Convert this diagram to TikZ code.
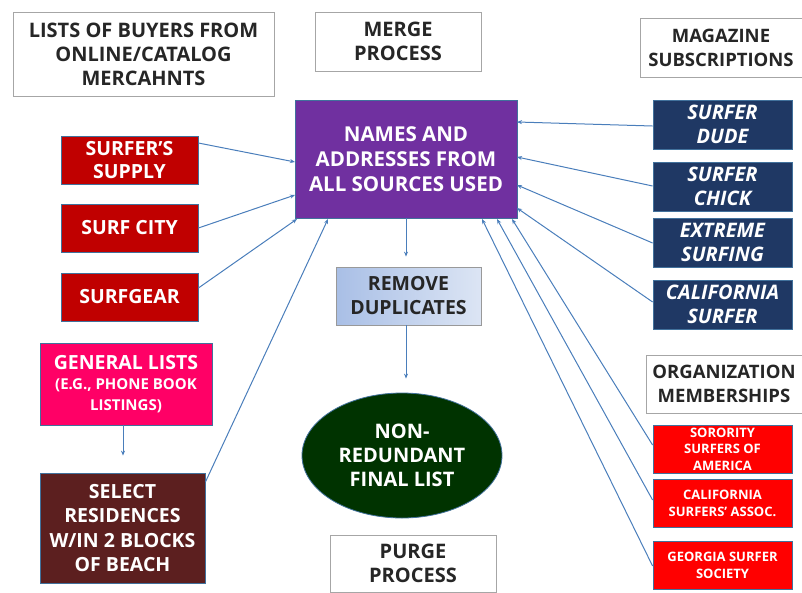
\documentclass[tikz,border=0pt]{standalone}
\usepackage{fontspec}
\setmainfont{Open Sans}
\usetikzlibrary{arrows.meta,shapes.geometric}
\definecolor{linec}{HTML}{4A7EBB}
\definecolor{purp}{HTML}{7030A0}
\definecolor{dred}{HTML}{C00000}
\definecolor{pinkc}{HTML}{FF0066}
\definecolor{brownc}{HTML}{5C1F1F}
\definecolor{navyc}{HTML}{1F3864}
\definecolor{redc}{HTML}{FF0000}
\definecolor{greenc}{HTML}{003300}
\definecolor{bordc}{HTML}{41719C}
\definecolor{remA}{HTML}{A9BFE6}
\definecolor{remB}{HTML}{DCE5F4}
\tikzset{
  x=1pt,y=-1pt,
  wbox/.style={draw=gray!70,line width=0.8pt,fill=white,align=center,font=\bfseries\fontsize{20}{24}\selectfont,text=black!85,inner sep=0pt},
  cbox/.style={draw=bordc,line width=0.8pt,align=center,text=white,inner sep=0pt,font=\bfseries\fontsize{19.5}{23.5}\selectfont},
  conn/.style={draw=linec,line width=1pt,-{Stealth[length=5pt,width=4pt]}}
}
\begin{document}
\begin{tikzpicture}
\useasboundingbox (0,0) rectangle (802,592);
% white label boxes
\node[wbox,minimum width=261,minimum height=84] (lists) at (143.5,54) {LISTS OF BUYERS FROM\\ONLINE/CATALOG\\MERCAHNTS};
\node[wbox,minimum width=166,minimum height=59] (merge) at (398,41.5) {MERGE\\PROCESS};
\node[wbox,minimum width=162,minimum height=59,font=\bfseries\fontsize{18.5}{24}\selectfont] (mag) at (721,47.5) {MAGAZINE\\SUBSCRIPTIONS};
\node[wbox,minimum width=156,minimum height=58,font=\bfseries\fontsize{18.5}{24}\selectfont] (org) at (724,384) {ORGANIZATION\\MEMBERSHIPS};
\node[wbox,minimum width=166,minimum height=57] (purge) at (413,563.5) {PURGE\\PROCESS};
% main
\node[cbox,fill=purp,minimum width=222,minimum height=118,font=\bfseries\fontsize{20.5}{25}\selectfont] (main) at (406,159) {NAMES AND\\ADDRESSES FROM\\ALL SOURCES USED};
% left red
\node[cbox,fill=dred,minimum width=137,minimum height=48] (supply) at (129.5,160) {SURFER'S\\SUPPLY};
\node[cbox,fill=dred,minimum width=137,minimum height=48] (city) at (129.5,228) {SURF CITY};
\node[cbox,fill=dred,minimum width=137,minimum height=48] (gear) at (129.5,297) {SURFGEAR};
\node[cbox,fill=pinkc,minimum width=172,minimum height=82] (gen) at (126,384) {GENERAL LISTS\\[-3pt]{\fontsize{15}{20}\selectfont (E.G., PHONE BOOK}\\[-3pt]{\fontsize{15}{20}\selectfont LISTINGS)}};
\node[cbox,fill=brownc,minimum width=165,minimum height=110,font=\bfseries\fontsize{19.5}{24.5}\selectfont] (sel) at (122.5,528) {SELECT\\RESIDENCES\\W/IN 2 BLOCKS\\OF BEACH};
% center
\node[draw=gray!80,line width=0.8pt,left color=remA,right color=remB,minimum width=145,minimum height=58,align=center,inner sep=0pt,text=black!85,font=\bfseries\fontsize{19.5}{24}\selectfont] (rem) at (408.5,296) {REMOVE\\DUPLICATES};
\node[ellipse,draw=bordc,line width=0.8pt,fill=greenc,minimum width=200,minimum height=125,inner sep=0pt,align=center,text=white,font=\bfseries\fontsize{20}{24}\selectfont] (fin) at (402,455.5) {NON-\\REDUNDANT\\FINAL LIST};
% right navy
\tikzset{nbox/.style={cbox,fill=navyc,minimum width=139,minimum height=49,font=\bfseries\itshape\fontsize{20}{24}\selectfont}}
\node[nbox] (dude) at (722.5,124.5) {SURFER\\DUDE};
\node[nbox] (chick) at (722.5,186.5) {SURFER\\CHICK};
\node[nbox] (ext) at (722.5,242.5) {EXTREME\\SURFING};
\node[nbox] (cal) at (722.5,304.5) {CALIFORNIA\\SURFER};
% right red
\tikzset{rbox/.style={cbox,fill=redc,minimum width=139,minimum height=48,font=\bfseries\fontsize{13}{16.5}\selectfont}}
\node[rbox] (sor) at (722.5,449) {SORORITY\\SURFERS OF\\AMERICA};
\node[rbox] (csa) at (722.5,503.5) {CALIFORNIA\\SURFERS' ASSOC.};
\node[rbox] (geo) at (722.5,565.5) {GEORGIA SURFER\\SOCIETY};
% connectors
\coordinate (m1) at (295,162);
\coordinate (m2) at (295,195);
\coordinate (m3) at (297,219);
\coordinate (m4) at (328,219);
\coordinate (r1) at (517,122);
\coordinate (r2) at (517,157);
\coordinate (r3) at (517,185);
\coordinate (r4) at (517,208);
\coordinate (b1) at (512,219);
\coordinate (b2) at (497,219);
\coordinate (b3) at (482,219);
\draw[conn] (supply.east|-0,143) -- (m1);
\draw[conn] (city.east) -- (m2);
\draw[conn] (gear.east|-0,288) -- (m3);
\draw[conn] (sel.north east|-0,482) -- (m4);
\draw[conn,shorten >=17pt] (gen.south-|123,0) -- (sel.north-|123,0);
\draw[conn,shorten >=10pt] (main.south) -- (rem.north-|main.south);
\draw[conn,shorten >=14pt] (rem.south-|main.south) -- (fin.north-|main.south);
\draw[conn] (dude.west|-0,126) -- (r1);
\draw[conn] (chick.west|-0,186) -- (r2);
\draw[conn] (ext.west|-0,243) -- (r3);
\draw[conn] (cal.west|-0,302) -- (r4);
\draw[conn] (sor.west|-0,445) -- (b1);
\draw[conn] (csa.west|-0,500) -- (b2);
\draw[conn] (geo.west|-0,566) -- (b3);
\end{tikzpicture}
\end{document}
